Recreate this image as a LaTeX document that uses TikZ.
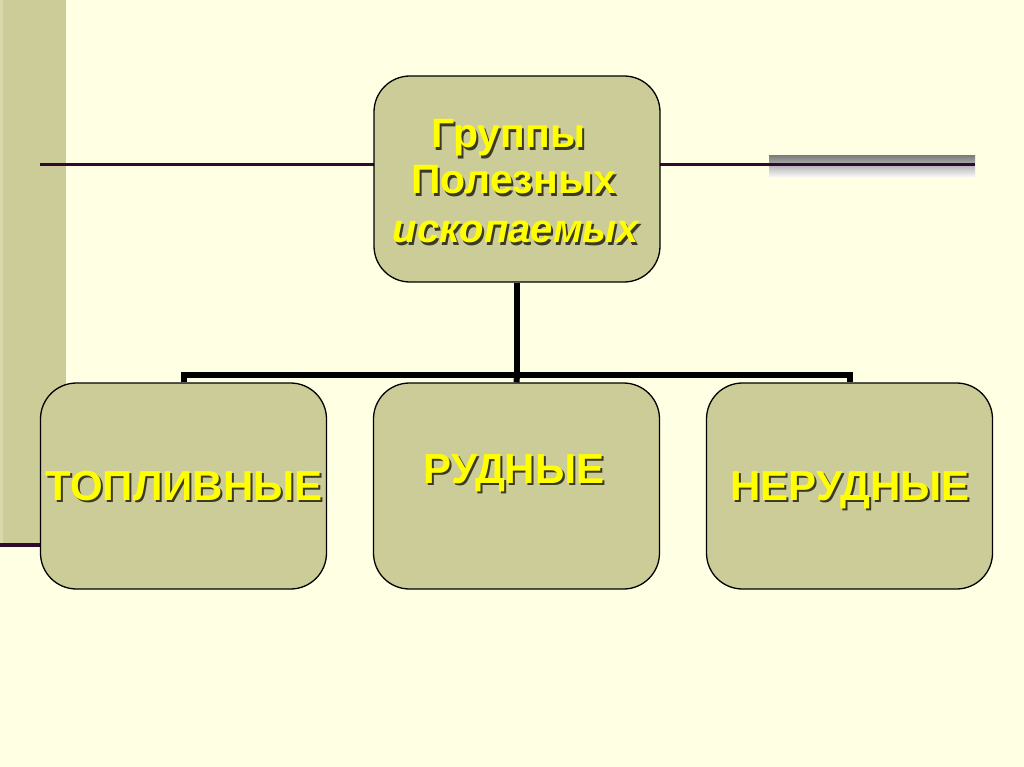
\documentclass[tikz,border=0pt]{standalone}
\usepackage{fontspec}
\setmainfont{Liberation Sans}
\definecolor{bg}{HTML}{FFFFE3}
\definecolor{olive}{HTML}{CCCC99}
\definecolor{oliveedge}{HTML}{D8D8AA}
\definecolor{plum}{HTML}{2F0A2F}
\definecolor{shade}{HTML}{B2B2B2}
\definecolor{txt}{HTML}{FFFF00}
\definecolor{txtsh}{HTML}{3A3A25}
\begin{document}
\begin{tikzpicture}[x=1pt,y=-1pt,
  box/.style={draw=black, line width=1.3pt, fill=olive, rounded corners=36pt,
    minimum width=286pt, minimum height=206pt, inner sep=0pt},
  lbl/.style={text=txt, font=\bfseries\fontsize{42}{42}\selectfont, inner sep=0pt, anchor=base},
  lbltop/.style={lbl, font=\bfseries\fontsize{41}{41}\selectfont},
  lblit/.style={lbl, font=\bfseries\itshape\fontsize{40}{40}\selectfont},
  shd/.style={text=txtsh},
  conn/.style={draw=black, line width=6pt},
  rule/.style={draw=plum, line width=3pt}]
\fill[bg] (0,0) rectangle (1024,767);
\useasboundingbox (0,0) rectangle (1024,767);
% left band
\fill[olive] (0,0) rectangle (66,545);
\fill[oliveedge] (0,0) rectangle (3,545);
\coordinate (bandL) at (0,545);
\coordinate (bandR) at (66,545);
\draw[draw=plum, line width=4.5pt] (bandL) -- (bandR);
% grey bar at right
\fill[shade] (769,156) rectangle (975,178);
% horizontal rule
\coordinate (ruleL) at (40,165);
\coordinate (ruleA) at (375,165);
\coordinate (ruleB) at (659,165);
\coordinate (ruleR) at (975,165);
\draw[rule] (ruleL) -- (ruleA);
\draw[rule] (ruleB) -- (ruleR);
% boxes
\node[box] (g) at (517,179) {};
\node[box] (t) at (183.5,486) {};
\node[box] (r) at (516.5,486) {};
\node[box] (n) at (849.5,486) {};
% connectors
\coordinate (bar) at (517,375);
\draw[conn] (g.south) -- (bar);
\draw[conn] (t.north) |- (bar) -| (n.north);
\draw[conn] (bar) -- (r.north);
% texts
\node[lbltop, shd] (g1s) at (510.5,150.5) {Группы};
\node[lbltop] (g1) at (508.5,148) {Группы};
\node[lbltop, shd] (g2s) at (515.5,196.5) {Полезных};
\node[lbltop] (g2) at (513.5,194) {Полезных};
\node[lblit, shd] (g3s) at (518,245.5) {ископаемых};
\node[lblit] (g3) at (516,243) {ископаемых};
\node[lbl, shd] (t1s) at (186,502.5) {ТОПЛИВНЫЕ};
\node[lbl] (t1) at (184,500) {ТОПЛИВНЫЕ};
\node[lbl, shd] (r1s) at (516,485.5) {РУДНЫЕ};
\node[lbl] (r1) at (514,483) {РУДНЫЕ};
\node[lbl, shd] (n1s) at (852,502.5) {НЕРУДНЫЕ};
\node[lbl] (n1) at (850,500) {НЕРУДНЫЕ};
\end{tikzpicture}
\end{document}
